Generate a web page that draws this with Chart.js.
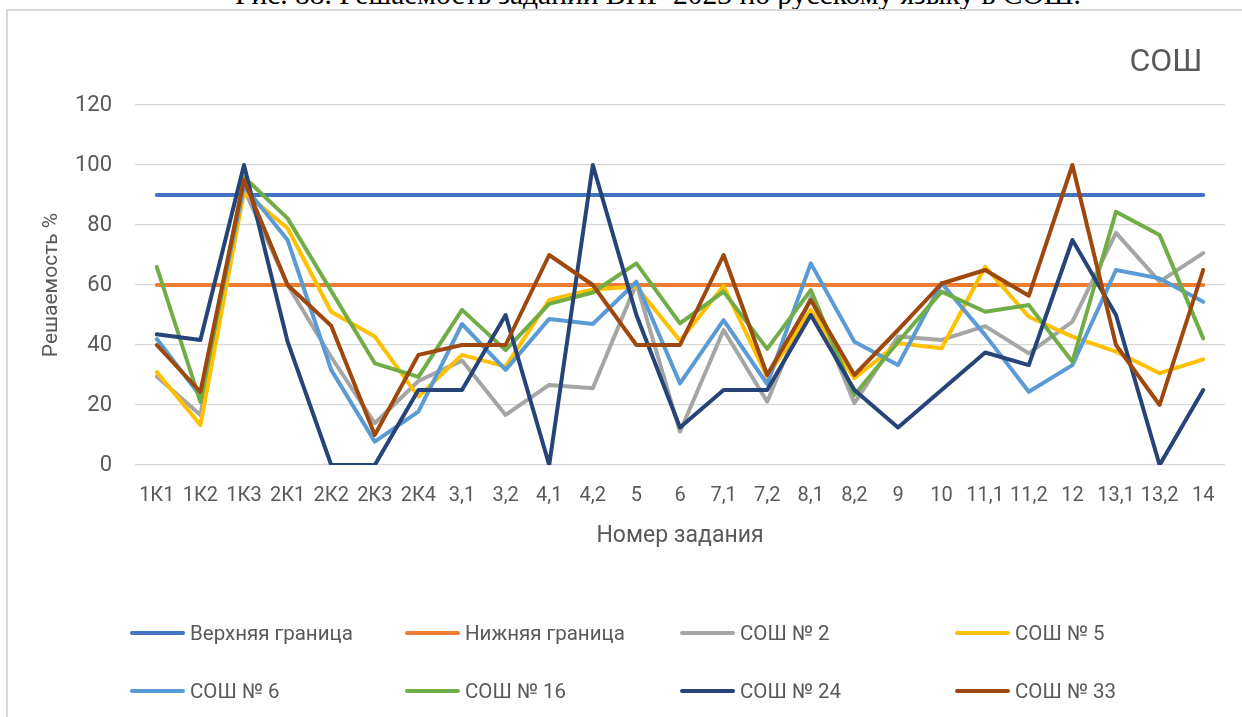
<!DOCTYPE html>
<html>
<head>
<meta charset="utf-8">
<script src="https://cdn.jsdelivr.net/npm/chart.js@4.4.1/dist/chart.umd.min.js"></script>
<style>
  html, body { margin: 0; padding: 0; background: #fff; width: 1242px; height: 717px; overflow: hidden; }
  #wrap { position: relative; width: 1242px; height: 717px; }
  #caption { position: absolute; left: 0; width: 1316px; text-align: center; top: -20px; font-family: "Liberation Serif", "Times New Roman", serif; font-size: 29.5px; line-height: 29px; color: #000; white-space: nowrap; }
  #frame { position: absolute; left: 6px; top: 9px; width: 1300px; height: 800px; border: 2px solid #d9d9d9; box-sizing: border-box; }
  #c { position: absolute; left: 0; top: 0; }
  #title { position: absolute; left: 1100px; width: 132px; text-align: center; top: 41px; font-family: Roboto, sans-serif; font-size: 32px; color: #595959; }
  .lg { position: absolute; display: flex; align-items: center; font-family: Roboto, sans-serif; font-size: 20.5px; color: #595959; white-space: nowrap; }
  .lg i { display: inline-block; width: 55px; height: 4px; border-radius: 2px; margin-right: 5px; }
</style>
</head>
<body>
<div id="wrap">
  <div id="caption">Рис. 88. Решаемость заданий ВПР-2023 по русскому языку в СОШ.</div>
  <div id="frame"></div>
  <canvas id="c" width="1242" height="717"></canvas>
  <div id="title">СОШ</div>
  <div id="legend"></div>
</div>
<script>
const categories = ['1К1','1К2','1К3','2К1','2К2','2К3','2К4','3,1','3,2','4,1','4,2','5','6','7,1','7,2','8,1','8,2','9','10','11,1','11,2','12','13,1','13,2','14'];
const yTicks = [0, 20, 40, 60, 80, 100, 120];
const seriesNames = ['Верхняя граница','Нижняя граница','СОШ № 2','СОШ № 5','СОШ № 6','СОШ № 16','СОШ № 24','СОШ № 33'];
const upperBound = [90,90,90,90,90,90,90,90,90,90,90,90,90,90,90,90,90,90,90,90,90,90,90,90,90];
const lowerBound = [60,60,60,60,60,60,60,60,60,60,60,60,60,60,60,60,60,60,60,60,60,60,60,60,60];
const sosh2  = [29.5,16.7,92,60,36,13.9,28,34.8,16.7,26.7,25.6,60.5,11.1,45,21.1,56,20.6,42.8,41.7,46.3,37.2,47.8,77.4,61.1,70.6];
const sosh5  = [31,13.3,91,78.9,51.1,42.8,22.8,36.7,32.8,55,58.5,59.5,41.4,59.7,29.4,51.7,28.9,40.6,38.9,66.1,49.4,42.8,37.8,30.6,35.2];
const sosh6  = [42,23,93,75,31.7,7.8,17.8,47,31.7,48.7,47,61.1,27.2,48.3,27,67.2,41.1,33.3,60.6,43.3,24.4,33.3,65,62.2,54.4];
const sosh16 = [66,21,96,82.2,58,33.9,29.4,51.7,38.3,53.7,57.5,67.2,47.2,57.8,38.7,58.3,23.3,41,57.8,51.1,53.3,34.4,84.4,76.7,42.2];
const sosh24 = [43.6,41.7,100,41.1,0,0,25,25,50,0,100,50,12.5,25,25,50,25,12.5,25,37.5,33.3,75,50,0,25];
const sosh33 = [40,24.4,95,60,46.4,10,36.7,40,40,70,60,40,40,70,30,55,30,45,60.5,65,56.4,100,40,20,65];

const seriesData = [upperBound, lowerBound, sosh2, sosh5, sosh6, sosh16, sosh24, sosh33];
const colors = ['#4472C4','#ED7D31','#A5A5A5','#FFC000','#5B9BD5','#70AD47','#264478','#9E480E'];

const datasets = seriesNames.map((name, i) => ({
  label: name,
  data: seriesData[i],
  borderColor: colors[i],
  backgroundColor: colors[i],
  borderWidth: 4,
  pointRadius: 0,
  tension: 0,
  borderCapStyle: 'round',
  borderJoinStyle: 'round',
  order: seriesNames.length - i
}));

const txt = '#595959';
new Chart(document.getElementById('c'), {
  type: 'line',
  data: { labels: categories, datasets },
  options: {
    responsive: false,
    animation: false,
    layout: { padding: { top: 105, right: 17, left: 0, bottom: 0 } },
    plugins: { legend: { display: false }, tooltip: { enabled: false } },
    scales: {
      y: {
        min: 0, max: 120,
        afterBuildTicks: s => { s.ticks = yTicks.map(v => ({ value: v })); },
        afterFit: s => { s.width = 135; },
        ticks: { font: { family: 'Roboto', size: 22 }, color: txt, padding: 23 },
        grid: { color: '#d9d9d9', lineWidth: 1.3, drawTicks: false },
        border: { display: false },
        title: { display: true, text: 'Решаемость %', font: { family: 'Roboto', size: 21 }, color: txt, padding: { top: 39.4, bottom: 0 } }
      },
      x: {
        offset: true,
        afterFit: s => { s.height = 252; },
        ticks: { font: { family: 'Roboto', size: 20 }, color: txt, padding: 19, maxRotation: 0, autoSkip: false },
        grid: { display: false, drawTicks: false },
        border: { display: false },
        title: { display: true, text: 'Номер задания', font: { family: 'Roboto', size: 23 }, color: txt, padding: { top: 0, bottom: 167 } }
      }
    }
  }
});

const legend = document.getElementById('legend');
seriesNames.forEach((name, i) => {
  const d = document.createElement('div');
  d.className = 'lg';
  const col = i % 4, row = Math.floor(i / 4);
  d.style.left = (130 + col * 275) + 'px';
  d.style.top = (633 + row * 58 - 12) + 'px';
  d.style.height = '24px';
  const sw = document.createElement('i');
  sw.style.background = colors[i];
  d.appendChild(sw);
  d.appendChild(document.createTextNode(name));
  legend.appendChild(d);
});
</script>
</body>
</html>
